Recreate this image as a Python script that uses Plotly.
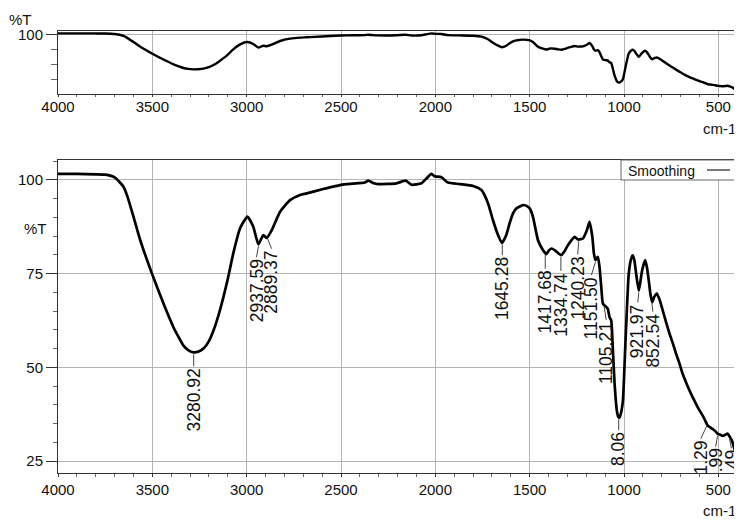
import numpy as np
import plotly.graph_objects as go

# ---------------- data ----------------
wavenumber = [4000, 3900, 3800, 3750, 3700, 3653, 3635, 3600, 3564, 3502, 3441, 3388, 3360, 3335,
              3310, 3282, 3255, 3229, 3200, 3176, 3150, 3123, 3100, 3071, 3035, 2996, 2965, 2938,
              2912, 2894, 2867, 2823, 2770, 2717,
              2682, 2600, 2559, 2500, 2440, 2374, 2356, 2330, 2303, 2206, 2157, 2126, 2074, 2047,
              2021, 2005, 1994, 1968, 1933, 1871, 1800, 1756, 1721, 1695, 1668, 1647, 1624, 1606,
              1589, 1571, 1553, 1536, 1515, 1500, 1483, 1456, 1430, 1412, 1398, 1385, 1368, 1350,
              1332, 1315, 1297, 1280, 1262, 1244, 1230, 1218, 1197, 1183, 1168, 1160, 1152, 1139,
              1130, 1120, 1112, 1094, 1086, 1077, 1068, 1059, 1050, 1038, 1030, 1024, 1015, 1006,
              992, 975, 962, 954, 945, 936, 922, 913, 904, 888, 878, 869, 860, 851, 840, 826, 810,
              795, 777, 759, 742, 724, 706, 689, 670, 653, 636, 618, 600, 583, 570, 556, 543, 530,
              517, 504, 490, 477, 463, 451, 440, 428, 418, 406, 398]
transmittance = [101.6, 101.6, 101.5, 101.4, 100.7, 98.2, 96.0, 90.2, 83.9, 75.0, 67.0, 60.7, 58.0, 55.8,
                 54.6, 54.0, 54.2, 55.0, 57.0, 59.8, 63.8, 68.8, 73.6, 80.4, 87.1, 90.2, 87.5, 82.8,
                 85.3, 84.5, 86.6, 91.5, 94.6, 96.0,
                 96.4, 97.5, 98.0, 98.7, 99.0, 99.3, 99.8, 99.2, 98.9, 99.1, 99.8, 98.7, 99.1, 100.4,
                 101.6, 101.0, 100.9, 100.7, 99.3, 98.9, 98.4, 97.3, 93.8, 89.3, 85.3, 83.2, 85.3, 88.5,
                 91.0, 92.4, 92.9, 93.3, 93.0, 92.4, 90.2, 83.9, 81.3, 80.2, 81.2, 81.7, 81.3, 80.5,
                 79.9, 81.0, 82.6, 83.8, 84.8, 84.1, 84.2, 84.4, 86.6, 88.8, 84.8, 80.5, 78.6, 79.5,
                 76.8, 71.0, 67.0, 66.1, 65.6, 63.4, 62.5, 54.5, 45.6, 38.4, 36.7, 36.6, 38.0, 41.1,
                 57.2, 75.0, 79.0, 79.9, 78.5, 75.0, 70.5, 73.0, 75.9, 78.6, 76.5, 73.2, 69.5, 67.4,
                 68.8, 69.7, 67.8, 65.2, 62.0, 59.0, 56.5, 53.6, 51.0, 48.2, 45.8, 43.8, 42.0, 40.2,
                 38.5, 37.1, 35.8, 34.4, 34.0, 33.5, 33.0, 32.3, 32.0, 31.7, 32.0, 32.3, 31.5, 30.4,
                 28.8, 26.8, 25.6]

peak_wavenumbers = [3280.92, 2937.59, 2889.37, 1645.28, 1417.68, 1334.74, 1240.23, 1151.50,
                    1105.21, 1028.06, 921.97, 852.54, 561.29, 503.99, 441.49]
# visible part of each peak label (the lowest ones are cut by the plot frame)
peak_texts = ["3280.92", "2937.59", "2889.37", "1645.28", "1417.68", "1334.74", "1240.23",
              "1151.50", "1105.21", "8.06", "921.97", "852.54", "1.29", ".99", "49"]

x_tick_values = [4000, 3500, 3000, 2500, 2000, 1500, 1000, 500]
x_tick_labels = ["4000", "3500", "3000", "2500", "2000", "1500", "1000", "500"]
y_tick_values = [25, 50, 75, 100]
y_tick_labels = ["25", "50", "75", "100"]
series_name = "Smoothing"

# ---------------- layout helpers (pixel offsets for the label leaders) ----------------
label_dx = [0, -2, 4, 0, 0, 0, -1, -4, 2, 0, -1, 1, -6, -2, 2]
label_gap = [15, 14, 13, 14, 17, 17, 16, 16, 16, 14, 13, 12, 16, 14, 13]

TICK_FONT = dict(family="Liberation Sans, Arial", size=15, color="#111")
LEG_FONT = dict(family="Liberation Sans, Arial", size=14, color="#111")
LABEL_FONT = dict(family="Liberation Sans, Arial", size=17.5, color="#111")
GRID = "#b4b4b4"
FRAME = "#333"

wn = np.array(wavenumber, dtype=float)
tr = np.array(transmittance, dtype=float)
peak_t = np.interp(peak_wavenumbers, wn[::-1], tr[::-1])

fig = go.Figure()
for xa, ya, w in (("x", "y", 2.4), ("x2", "y2", 2.7)):
    fig.add_trace(go.Scatter(x=wavenumber, y=transmittance, mode="lines", name=series_name,
                             line=dict(color="#000", width=w, shape="spline", smoothing=0.5),
                             xaxis=xa, yaxis=ya, showlegend=False, hoverinfo="skip"))

def xaxis_style(ticklen, standoff):
    return dict(range=[4000, 396], tickmode="array", tickvals=x_tick_values, ticktext=x_tick_labels,
                ticks="outside", ticklen=ticklen, tickcolor=FRAME, tickfont=TICK_FONT,
                ticklabelstandoff=standoff, automargin=False,
                showgrid=True, gridcolor=GRID, gridwidth=1, zeroline=False,
                showline=True, mirror=True, linecolor=FRAME, linewidth=1,
                minor=dict(dtick=100, tick0=0, ticks="outside", ticklen=ticklen, tickcolor="#666",
                           showgrid=False))

# the page body adds an 8 px offset, so the figure is 8 px smaller than the window
fig.update_layout(
    width=734, height=512,
    margin=dict(l=50, r=4, t=23, b=47),
    paper_bgcolor="white", plot_bgcolor="white",
    showlegend=False,
    xaxis=dict(domain=[0, 1], anchor="y", **xaxis_style(2, -3)),
    yaxis=dict(domain=[0.8575, 1], anchor="x", range=[21.5, 104.7], tickmode="array",
               tickvals=[100], ticktext=["100"], ticks="outside", ticklen=11, tickcolor=FRAME,
               tickfont=TICK_FONT, automargin=False, showgrid=True, gridcolor=GRID, zeroline=False,
               showline=True, mirror=True, linecolor=FRAME, linewidth=1,
               minor=dict(tickvals=[40, 60, 80], ticks="outside", ticklen=6, tickcolor="#666",
                          showgrid=False)),
    xaxis2=dict(domain=[0, 1], anchor="y2", **xaxis_style(3, 0)),
    yaxis2=dict(domain=[0, 0.708], anchor="x2", range=[21.8, 105.3], tickmode="array",
                tickvals=y_tick_values, ticktext=y_tick_labels, ticks="outside", ticklen=11,
                tickcolor=FRAME, tickfont=TICK_FONT, automargin=False, showgrid=True, gridcolor=GRID,
                zeroline=False, showline=True, mirror=True, linecolor=FRAME, linewidth=1,
                minor=dict(dtick=5, tick0=0, ticks="outside", ticklen=4, tickcolor="#666",
                           showgrid=False)),
)

shapes = []
annotations = []
for pw, pt, txt, dx, gap in zip(peak_wavenumbers, peak_t, peak_texts, label_dx, label_gap):
    shapes.append(dict(type="line", xref="x2", yref="y2", xsizemode="pixel", ysizemode="pixel",
                       xanchor=pw, yanchor=pt, x0=0, y0=-2, x1=dx, y1=-(gap - 1),
                       line=dict(color="#444", width=1)))
    annotations.append(dict(x=pw, y=pt, xref="x2", yref="y2", text=txt, textangle=-90,
                            showarrow=False, xanchor="center", yanchor="top",
                            xshift=dx, yshift=-gap, font=LABEL_FONT, borderpad=0))

# reference-pixel -> paper helpers (plot area spans x 58..738, y 31..473 of the reference)
def px_x(p):
    return (p - 58) / 680.0

def px_y(p):
    return 1 - (p - 31) / 442.0

# legend box drawn as in the reference (label then line sample)
shapes.append(dict(type="rect", xref="paper", yref="paper", x0=px_x(621), x1=px_x(738),
                   y0=px_y(180), y1=px_y(160), fillcolor="white", line=dict(color="#666", width=1),
                   layer="above"))
shapes.append(dict(type="line", xref="paper", yref="paper", x0=px_x(707), x1=px_x(730),
                   y0=px_y(170), y1=px_y(170), line=dict(color="#222", width=1.2), layer="above"))
annotations.append(dict(x=px_x(626), y=px_y(170.5), xref="paper", yref="paper", text=series_name,
                        showarrow=False, xanchor="left", yanchor="middle", font=LEG_FONT))

# axis titles
annotations += [
    dict(x=px_x(8), y=px_y(19), xref="paper", yref="paper", text="%T", showarrow=False,
         xanchor="left", yanchor="middle", font=TICK_FONT, borderpad=0),
    dict(x=px_x(22), y=px_y(228), xref="paper", yref="paper", text="%T", showarrow=False,
         xanchor="left", yanchor="middle", font=TICK_FONT),
    dict(x=px_x(738), y=px_y(128), xref="paper", yref="paper", text="cm-1", showarrow=False,
         xanchor="right", yanchor="middle", font=TICK_FONT),
    dict(x=px_x(738), y=px_y(511), xref="paper", yref="paper", text="cm-1", showarrow=False,
         xanchor="right", yanchor="middle", font=TICK_FONT),
]

fig.update_layout(shapes=shapes, annotations=annotations)
fig.write_html("out.html")
